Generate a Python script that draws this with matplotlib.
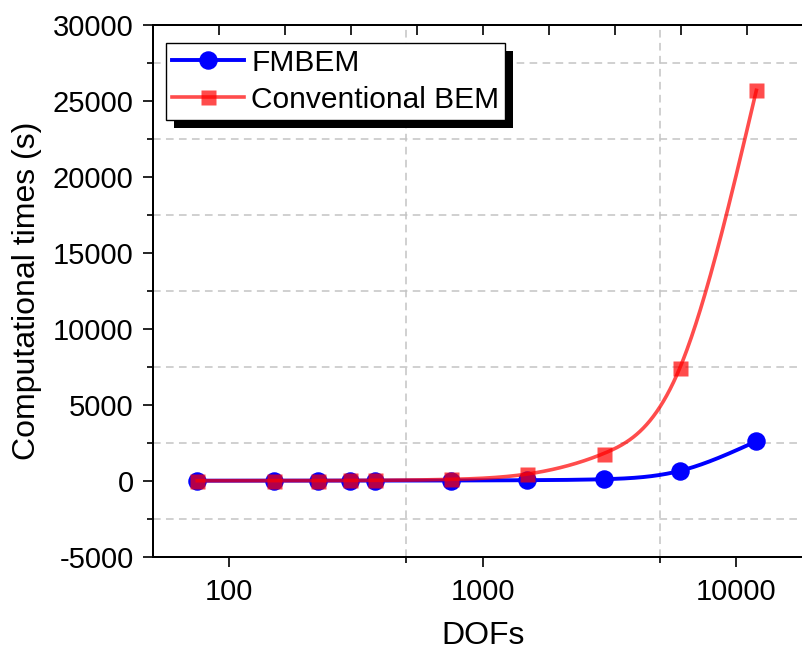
import numpy as np
import matplotlib
matplotlib.use('Agg')
import matplotlib.pyplot as plt
from matplotlib.ticker import FixedLocator, MultipleLocator, NullFormatter
from matplotlib.patches import Rectangle

plt.rcParams['font.family'] = ['Liberation Sans', 'DejaVu Sans']
plt.rcParams['axes.unicode_minus'] = False

# data
dofs = [75, 150, 225, 300, 375, 750, 1500, 3000, 6000, 12000]
fmbem_time = [2, 4, 6, 8, 10, 15, 35, 100, 650, 2600]
conv_time = [1, 4, 9, 16, 25, 90, 440, 1790, 7450, 25700]

x_major = [100, 1000, 10000]
x_minor = [500, 5000]


def spline_line(x, y, n=500):
    # natural cubic spline through the points, in log10(x)
    t = np.log10(np.asarray(x, float))
    y = np.asarray(y, float)
    k = len(t)
    h = np.diff(t)
    A = np.zeros((k, k))
    b = np.zeros(k)
    A[0, 0] = A[-1, -1] = 1.0
    for i in range(1, k - 1):
        A[i, i - 1] = h[i - 1]
        A[i, i] = 2 * (h[i - 1] + h[i])
        A[i, i + 1] = h[i]
        b[i] = 6 * ((y[i + 1] - y[i]) / h[i] - (y[i] - y[i - 1]) / h[i - 1])
    M = np.linalg.solve(A, b)
    tt = np.linspace(t[0], t[-1], n)
    idx = np.clip(np.searchsorted(t, tt) - 1, 0, k - 2)
    t0, t1 = t[idx], t[idx + 1]
    hh = t1 - t0
    a = (t1 - tt) / hh
    c = (tt - t0) / hh
    yy = (a * y[idx] + c * y[idx + 1]
          + ((a ** 3 - a) * M[idx] + (c ** 3 - c) * M[idx + 1]) * hh ** 2 / 6)
    return 10 ** tt, yy


fig = plt.figure(figsize=(8.03, 6.53), dpi=100)
ax = fig.add_axes([0.190, 0.1475, 0.822, 0.8142])

blue = '#0000ff'
red = (1.0, 0.0, 0.0, 0.7)

xs, ys = spline_line(dofs, fmbem_time)
ax.plot(xs, ys, color=blue, lw=2.8, zorder=3)
ax.plot(dofs, fmbem_time, 'o', color=blue, ms=12.3, zorder=3)
xs, ys = spline_line(dofs, conv_time)
ax.plot(xs, ys, color=red, lw=2.6, zorder=4)
ax.plot(dofs, conv_time, 's', color=red, mec='none', ms=10.8, zorder=4)

# legend proxies
hb, = ax.plot([], [], '-o', color=blue, lw=2.8, ms=12.3, label='FMBEM')
hr, = ax.plot([], [], '-s', color=red, mec='none', lw=2.6, ms=10.8,
              label='Conventional BEM')

ax.set_xscale('log')
ax.set_xlim(50, 20000)
ax.set_ylim(-5000, 30000)
ax.xaxis.set_major_locator(FixedLocator(x_major))
ax.xaxis.set_minor_locator(FixedLocator(x_minor))
ax.xaxis.set_minor_formatter(NullFormatter())
ax.set_xticklabels([str(v) for v in x_major])
ax.yaxis.set_major_locator(MultipleLocator(5000))
ax.yaxis.set_minor_locator(MultipleLocator(2500))

ax.grid(which='minor', color='#c4c4c4', ls=(0, (5, 3.5)), lw=1.1)
ax.grid(which='major', visible=False)
ax.tick_params(which='major', direction='out', length=7.2, width=1.2,
               labelsize=21, pad=6.5)
ax.tick_params(axis='x', which='major', pad=8)
ax.tick_params(which='minor', direction='out', length=4, width=1.2)
for s in ax.spines.values():
    s.set_linewidth(1.3)

ax.set_xlabel('DOFs', fontsize=23, labelpad=11)
ax.set_ylabel('Computational times (s)', fontsize=23, labelpad=8)

# top and right frame ticks (plain divisions, inward)
axt = ax.twiny()
axt.set_xlim(0, 10)
axt.set_xticks(range(1, 10))
axt.tick_params(direction='in', length=7.2, width=1.2, labeltop=False)
axr = ax.twinx()
axr.set_ylim(0, 5)
axr.set_yticks(range(1, 5))
axr.tick_params(direction='in', length=7.2, width=1.2, labelright=False)
for a in (axt, axr):
    for s in a.spines.values():
        s.set_linewidth(1.3)

leg = axr.legend(handles=[hb, hr], loc='upper left',
                 bbox_to_anchor=(0.0203, 0.9667), borderaxespad=0,
                 fontsize=21.5, frameon=True, fancybox=False, framealpha=1,
                 edgecolor='black', handlelength=2.4, handletextpad=0.25,
                 labelspacing=0.3, borderpad=0.2)
leg.get_frame().set_linewidth(1.0)
leg.set_zorder(10)

fig.canvas.draw()
bb = leg.get_window_extent()
off = 8
shadow = Rectangle((bb.x0 + off, bb.y0 - off), bb.width, bb.height,
                   transform=None, facecolor='black', edgecolor='none',
                   zorder=9)
axr.add_artist(shadow)

fig.savefig('out.png', dpi=100)
